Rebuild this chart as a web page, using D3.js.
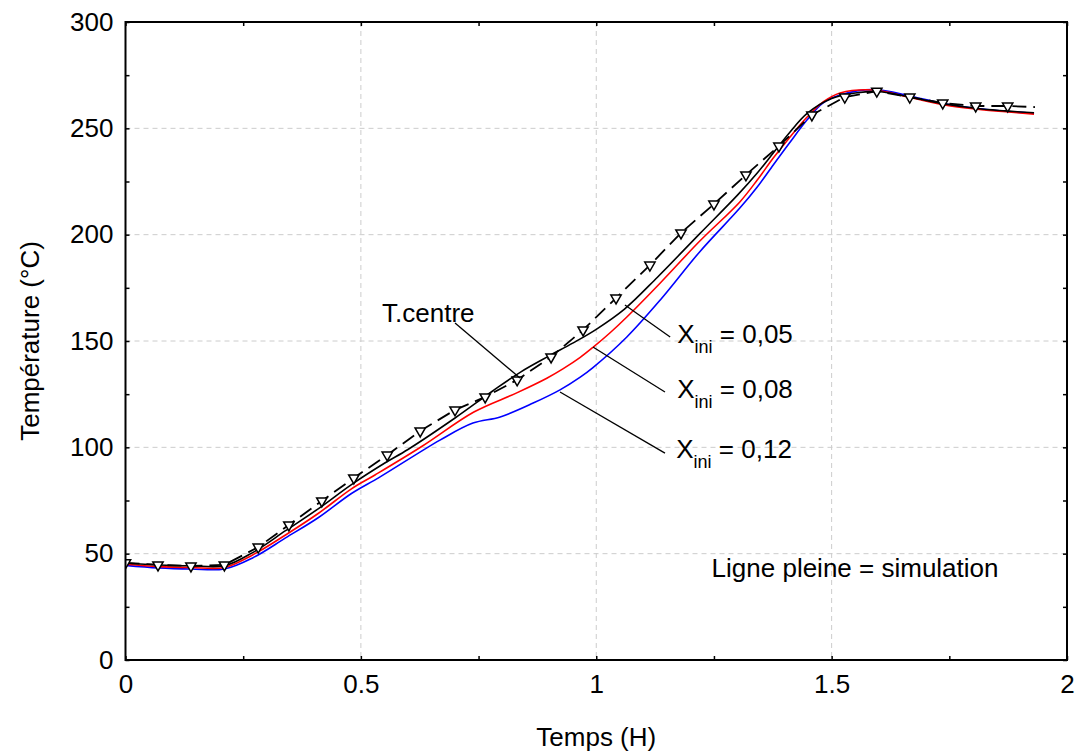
<!DOCTYPE html>
<html><head><meta charset="utf-8">
<script src="https://cdn.jsdelivr.net/npm/d3@7"></script>
<style>
body{margin:0;background:#fff}
text{font-family:Arial,"Liberation Sans",Helvetica,sans-serif;fill:#000}
</style>
</head><body>
<svg id="chart" width="1078" height="753"></svg>
<script>
// ---- data ----
const timeX05 = [0, 0.07, 0.14, 0.21, 0.27, 0.34, 0.41, 0.48, 0.55, 0.60, 0.70, 0.78, 0.84, 0.90, 0.95, 1.00, 1.06, 1.13, 1.22, 1.30, 1.342, 1.376, 1.41, 1.448, 1.50, 1.55, 1.60, 1.67, 1.74, 1.81, 1.87, 1.93];
const tempX05 = [45.6, 44.7, 44.3, 44.3, 50.5, 60.8, 71.2, 82.5, 92.5, 99, 113.8, 126.5, 135.5, 143, 149, 155.5, 165, 180, 200.5, 218.6, 229, 238.4, 247.8, 257, 264, 266.6, 267.3, 264.5, 261.5, 259.3, 258.2, 257.3];

const timeX08 = [0, 0.07, 0.14, 0.21, 0.27, 0.34, 0.41, 0.48, 0.53, 0.63, 0.74, 0.83, 0.895, 0.93, 0.966, 0.993, 1.03, 1.065, 1.136, 1.22, 1.305, 1.342, 1.376, 1.41, 1.448, 1.482, 1.518, 1.59, 1.667, 1.74, 1.81, 1.87, 1.93];
const tempX08 = [45.0, 43.9, 43.5, 43.5, 49.4, 58.8, 69, 80.5, 87, 100.5, 116.6, 125.5, 132.5, 137, 142.3, 147, 154, 161.3, 177.3, 197, 215.4, 225.7, 236, 245.5, 255.3, 262.4, 266.6, 268, 264.5, 261, 259, 257.8, 256.7];

const timeX12 = [0, 0.07, 0.14, 0.21, 0.27, 0.34, 0.41, 0.48, 0.54, 0.668, 0.738, 0.796, 0.866, 0.923, 0.966, 0.993, 1.065, 1.136, 1.22, 1.305, 1.342, 1.376, 1.41, 1.448, 1.482, 1.518, 1.59, 1.67, 1.74, 1.81, 1.87, 1.93];
const tempX12 = [44.5, 43.3, 42.8, 42.8, 48, 57.4, 67, 78.3, 86, 103.4, 111.4, 114.3, 120.8, 127, 133, 137.5, 151.9, 169.3, 192, 212.5, 222.4, 232.8, 243, 254, 262, 265.7, 268.2, 265, 261.5, 259.3, 258, 257.0];

// experimental centre temperature (dashed line with triangle markers)
const timeCentre = [0, 0.069, 0.139, 0.21, 0.282, 0.347, 0.417, 0.485, 0.556, 0.626, 0.70, 0.764, 0.832, 0.904, 0.972, 1.042, 1.114, 1.18, 1.25, 1.318, 1.388, 1.458, 1.528, 1.596, 1.666, 1.736, 1.806, 1.874];
const tempCentre = [45.7, 44.7, 44.2, 44.7, 53.1, 63.5, 74.8, 85.6, 96.4, 107.7, 117.6, 123.7, 131.7, 142.5, 155.2, 170.2, 185.7, 200.8, 214.4, 228.1, 241.7, 256.3, 264.7, 267.5, 264.7, 261.9, 260.5, 260.5];
const centreLineEnd = [1.932, 260.0];

const xTickValues = [0, 0.5, 1, 1.5, 2];
const xTickLabels = ["0", "0.5", "1", "1.5", "2"];
const yTickValues = [0, 50, 100, 150, 200, 250, 300];
const yTickLabels = ["0", "50", "100", "150", "200", "250", "300"];

const seriesNames = ["0,05", "0,08", "0,12"];
const seriesColors = ["#000000", "#ff0000", "#0000ff"];

// annotation anchors (data units): [from on curve] -> [to near label]
const leaderCentre = [[0.70, 158.5], [0.838, 132.6]];
const leaderX = [
  [[1.061, 166.9], [1.157, 151.9]],
  [[0.993, 147.2], [1.146, 126.0]],
  [[0.923, 126.0], [1.146, 97.3]]
];
const labelXPos = [[1.172, 149.0], [1.172, 123.2], [1.170, 95.0]];
const labelCentrePos = [0.545, 159.0];
const noteText = "Ligne pleine = simulation";
const notePos = [1.245, 38.8];

// ---- layout ----
const W = 1078, H = 753;
const L = 125.5, R = 1067, T = 22, B = 660;
const svg = d3.select("#chart");
svg.append("rect").attr("width", W).attr("height", H).attr("fill", "#fff");

const x = d3.scaleLinear().domain([0, 2]).range([L, R]);
const y = d3.scaleLinear().domain([0, 300]).range([B, T]);

// grid
const grid = svg.append("g").attr("stroke", "#cccccc").attr("stroke-width", 1).attr("stroke-dasharray", "5,4");
xTickValues.filter(v => v > 0 && v < 2).forEach(v => {
  grid.append("line").attr("x1", x(v)).attr("x2", x(v)).attr("y1", T).attr("y2", B);
});
yTickValues.filter(v => v > 0 && v < 300).forEach(v => {
  grid.append("line").attr("x1", L).attr("x2", R).attr("y1", y(v)).attr("y2", y(v));
});

// axes (inward ticks every 25 / 0.25)
const fs = 26;
const yAll = d3.range(0, 301, 25);
const xAll = d3.range(0, 2.001, 0.25);
function yFmt(v){ const i = yTickValues.indexOf(v); return i >= 0 ? yTickLabels[i] : ""; }
function xFmt(v){ const i = xTickValues.findIndex(t => Math.abs(t - v) < 1e-9); return i >= 0 ? xTickLabels[i] : ""; }

const gL = svg.append("g").attr("transform", `translate(${L},0)`)
  .call(d3.axisLeft(y).tickValues(yAll).tickSize(-4).tickPadding(12).tickFormat(yFmt));
const gR = svg.append("g").attr("transform", `translate(${R},0)`)
  .call(d3.axisRight(y).tickValues(yAll).tickSize(-4).tickFormat(""));
const gB = svg.append("g").attr("transform", `translate(0,${B})`)
  .call(d3.axisBottom(x).tickValues(xAll).tickSize(-4).tickPadding(15).tickFormat(xFmt));
const gT = svg.append("g").attr("transform", `translate(0,${T})`)
  .call(d3.axisTop(x).tickValues(xAll).tickSize(-4).tickFormat(""));
[gL, gR, gB, gT].forEach(g => {
  g.select(".domain").remove();
  g.selectAll(".tick line").attr("stroke", "#000").attr("stroke-width", 1.5);
  g.selectAll("text").attr("font-size", fs).attr("fill", "#000")
    .style("font-family", "Arial, 'Liberation Sans', sans-serif");
});

// clip
svg.append("clipPath").attr("id", "clip").append("rect")
  .attr("x", L).attr("y", T).attr("width", R - L).attr("height", B - T);
const plot = svg.append("g").attr("clip-path", "url(#clip)");

// simulation curves
const line = d3.line().x(d => x(d[0])).y(d => y(d[1])).curve(d3.curveCatmullRom.alpha(0.5));
const sims = [
  timeX05.map((t, i) => [t, tempX05[i]]),
  timeX08.map((t, i) => [t, tempX08[i]]),
  timeX12.map((t, i) => [t, tempX12[i]])
];
[2, 1, 0].forEach(k => {
  plot.append("path").datum(sims[k]).attr("d", line)
    .attr("fill", "none").attr("stroke", seriesColors[k]).attr("stroke-width", 1.6);
});

// experimental centre line
const centre = timeCentre.map((t, i) => [t, tempCentre[i]]);
const centreLine = centre.concat([centreLineEnd]);
plot.append("path").datum(centreLine)
  .attr("d", d3.line().x(d => x(d[0])).y(d => y(d[1])))
  .attr("fill", "none").attr("stroke", "#000").attr("stroke-width", 1.8)
  .attr("stroke-dasharray", "14,7");

const tri = d3.symbol().type(d3.symbolTriangle).size(46);
plot.selectAll("path.mk").data(centre).join("path").attr("class", "mk")
  .attr("d", tri)
  .attr("transform", d => `translate(${x(d[0])},${y(d[1])}) rotate(180)`)
  .attr("fill", "#fff").attr("stroke", "#000").attr("stroke-width", 1.5);

// frame
svg.append("rect").attr("x", L).attr("y", T).attr("width", R - L).attr("height", B - T)
  .attr("fill", "none").attr("stroke", "#000").attr("stroke-width", 2);

// leaders
const ann = svg.append("g").attr("stroke", "#000").attr("stroke-width", 1.3);
[leaderCentre].concat(leaderX).forEach(l => {
  ann.append("line").attr("x1", x(l[0][0])).attr("y1", y(l[0][1]))
    .attr("x2", x(l[1][0])).attr("y2", y(l[1][1]));
});

// labels
svg.append("text").attr("x", x(labelCentrePos[0])).attr("y", y(labelCentrePos[1]))
  .attr("font-size", fs).text("T.centre");
seriesNames.forEach((n, i) => {
  const t = svg.append("text").attr("x", x(labelXPos[i][0])).attr("y", y(labelXPos[i][1])).attr("font-size", fs);
  t.append("tspan").text("X");
  t.append("tspan").attr("font-size", 18).attr("dy", 10).text("ini");
  t.append("tspan").attr("dy", -10).text("\u00a0= " + n);
});
svg.append("text").attr("x", x(notePos[0])).attr("y", y(notePos[1]))
  .attr("font-size", fs).text(noteText);

// axis titles
svg.append("text").attr("x", x(1)).attr("y", 746).attr("text-anchor", "middle")
  .attr("font-size", fs).text("Temps (H)");
svg.append("text").attr("transform", `translate(39,${(T + B) / 2}) rotate(-90)`)
  .attr("text-anchor", "middle").attr("font-size", fs).text("Température (°C)");
</script>
</body></html>
